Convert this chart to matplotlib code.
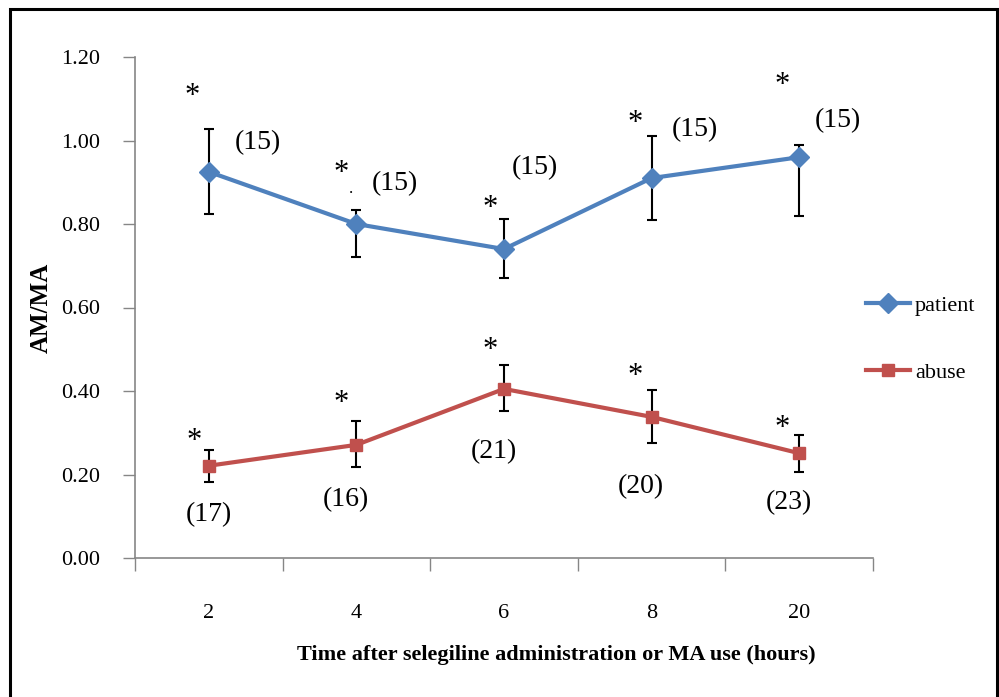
import numpy as np
import matplotlib
matplotlib.use("Agg")
import matplotlib.pyplot as plt
from matplotlib.patches import Rectangle

plt.rcParams['font.family'] = ['Liberation Serif', 'DejaVu Serif']

hours = ['2', '4', '6', '8', '20']

patient = [0.925, 0.80, 0.74, 0.91, 0.96]
patient_up = [0.103, 0.034, 0.072, 0.101, 0.03]
patient_down = [0.101, 0.08, 0.069, 0.10, 0.141]
patient_n = ['(15)', '(15)', '(15)', '(15)', '(15)']

abuse = [0.221, 0.271, 0.405, 0.338, 0.251]
abuse_up = [0.038, 0.058, 0.057, 0.064, 0.044]
abuse_down = [0.039, 0.053, 0.053, 0.063, 0.044]
abuse_n = ['(17)', '(16)', '(21)', '(20)', '(23)']

# label positions (category index, y)
patient_star_pos = [(-0.11, 1.106), (0.90, 0.921), (1.905, 0.837), (2.89, 1.041), (3.885, 1.132)]
patient_n_pos = [(0.33, 0.994), (1.26, 0.896), (2.21, 0.934), (3.29, 1.025), (4.26, 1.047)]
abuse_star_pos = [(-0.10, 0.279), (0.90, 0.370), (1.905, 0.497), (2.89, 0.435), (3.885, 0.311)]
abuse_n_pos = [(0.0, 0.103), (0.93, 0.141), (1.93, 0.256), (2.93, 0.170), (3.93, 0.132)]

blue = '#4F81BD'
red = '#C0504D'
grey = '#868686'

fig = plt.figure(figsize=(9.99, 6.97), dpi=100)
ax = fig.add_axes([135/999, 1 - 558/697, 738/999, 501/697])

x = np.arange(len(hours))

ax.errorbar(x, patient, yerr=[patient_down, patient_up], fmt='none', ecolor='black',
            elinewidth=1.5, capsize=3.5, capthick=1.5, zorder=2)
ax.errorbar(x, abuse, yerr=[abuse_down, abuse_up], fmt='none', ecolor='black',
            elinewidth=1.5, capsize=3.5, capthick=1.5, zorder=2)
ax.plot(x, patient, color=blue, lw=3, marker='D', ms=10, label='patient', zorder=3)
ax.plot(x, abuse, color=red, lw=3, marker='s', ms=8, label='abuse', zorder=3)

for (px, py) in patient_star_pos + abuse_star_pos:
    ax.text(px, py, '*', fontsize=22, ha='center', va='center')
for lab, (px, py) in zip(patient_n, patient_n_pos):
    ax.text(px, py, lab, fontsize=20, ha='center', va='center')
for lab, (px, py) in zip(abuse_n, abuse_n_pos):
    ax.text(px, py, lab, fontsize=20, ha='center', va='center')
ax.text(0.966, 0.884, '.', fontsize=12, ha='center', va='center')

ax.set_xlim(-0.5, 4.5)
ax.set_ylim(0, 1.2)
ax.set_yticks(np.arange(0, 1.21, 0.2))
ax.set_yticklabels(['%.2f' % v for v in np.arange(0, 1.21, 0.2)])
ax.set_xticks(np.arange(-0.5, 4.6, 1))
ax.set_xticklabels([])
ax.set_xticks(x, minor=True)
ax.set_xticklabels(hours, minor=True)
ax.tick_params(axis='x', which='major', length=9, width=1, color=grey, direction='out')
ax.tick_params(axis='x', which='minor', length=0, pad=33, labelsize=16)
ax.tick_params(axis='y', length=9, width=1, color=grey, direction='out', pad=16, labelsize=16)

for s in ['top', 'right']:
    ax.spines[s].set_visible(False)
for s in ['left', 'bottom']:
    ax.spines[s].set_color(grey)
    ax.spines[s].set_linewidth(1.2)

ax.set_ylabel('AM/MA', fontsize=18, fontweight='bold', labelpad=6)
fig.text(556/999, 1 - 655/697, 'Time after selegiline administration or MA use (hours)',
         fontsize=16, fontweight='bold', ha='center', va='center')

ax.legend(loc='center left', bbox_to_anchor=(866/999, 1 - 339/697), bbox_transform=fig.transFigure,
          frameon=False, fontsize=16, handlelength=2.0, handletextpad=0.2, labelspacing=2.1,
          borderpad=0, borderaxespad=0)

fig.patches.append(Rectangle((10/999, -0.01), 987/999, 1 - 9/697 + 0.01, transform=fig.transFigure,
                             fill=False, edgecolor='black', lw=2.2))

fig.savefig('out.png', dpi=100)
